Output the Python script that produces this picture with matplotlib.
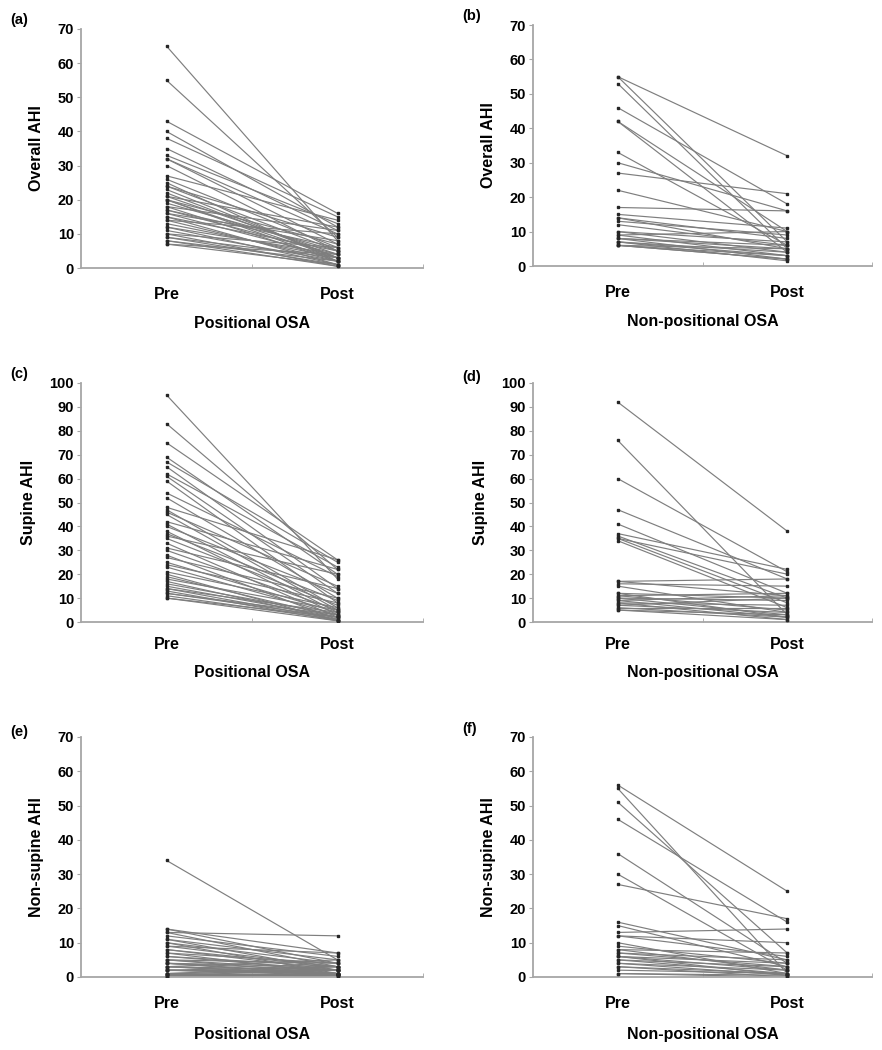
import matplotlib
matplotlib.use("Agg")
import matplotlib.pyplot as plt
from matplotlib.ticker import FixedLocator

plt.rcParams['font.family'] = ['Liberation Sans', 'DejaVu Sans']

groups = ["Pre", "Post"]

# Positional OSA
pos_overall_pre = [65, 55, 43, 40, 38, 35, 33, 32, 32, 30, 27, 26, 25, 24, 24, 23, 22, 21, 21, 20,
                   20, 20, 19, 18, 18, 17, 17, 16, 16, 15, 15, 14, 14, 13, 12, 12, 11, 10, 10, 9,
                   9, 8, 8, 7, 7]
pos_overall_post = [8, 9, 16, 12, 15, 11, 13, 10, 7, 5, 14, 6, 2, 9, 5, 3, 3, 4, 12, 3,
                    7, 2, 5, 2, 11, 6, 4, 3, 8, 1, 5, 2, 10, 3, 1, 4, 2, 0.5, 6, 1,
                    3, 2, 0.5, 1, 4]
pos_supine_pre = [95, 83, 75, 69, 67, 65, 62, 61, 59, 54, 52, 48, 47, 46, 45, 42, 41, 40, 38, 37,
                  36, 35, 33, 31, 30, 28, 27, 25, 24, 23, 21, 20, 19, 18, 17, 16, 15, 14, 14, 13,
                  12, 12, 11, 10, 10]
pos_supine_post = [18, 22, 26, 20, 25, 14, 23, 12, 8, 19, 10, 26, 6, 15, 5, 22, 4, 12, 3, 9,
                   20, 7, 2, 14, 5, 1, 10, 4, 8, 3, 6, 0.5, 2, 5, 1, 3, 2, 4, 1, 0.5,
                   2, 3, 1, 0.5, 2]
pos_nonsupine_pre = [34, 14, 14, 13, 13, 12, 11, 11, 10, 10, 9, 9, 8, 7, 7, 6, 5, 5, 5, 4,
                     4, 4, 3, 3, 3, 3, 2, 2, 2, 2, 2, 1, 1, 1, 1, 1, 0.5, 0.5, 0.5, 0,
                     0, 0, 6, 8, 4]
pos_nonsupine_post = [5, 7, 4, 12, 3, 6, 2, 5, 4, 1, 3, 7, 2, 4, 1, 3, 2, 4, 1, 3,
                      0.5, 2, 1, 5, 2, 0.5, 1, 3, 0.5, 2, 1, 0.5, 2, 1, 0, 3, 1, 0.5, 2, 0,
                      1, 0.5, 2, 3, 1]

# Non-positional OSA
np_overall_pre = [55, 55, 53, 46, 42, 42, 33, 30, 27, 22, 17, 15, 14, 14, 13, 12, 10, 10, 9, 9,
                  8, 8, 8, 7, 7, 7, 6, 6, 6, 6]
np_overall_post = [32, 7, 5, 18, 10, 4, 6, 16, 21, 10, 16, 11, 8, 5, 9, 6, 4, 7, 3, 10,
                   5, 2, 6, 3, 1.5, 4, 2, 3, 5, 2]
np_supine_pre = [92, 76, 60, 47, 41, 37, 36, 35, 35, 34, 17, 17, 16, 15, 12, 12, 11, 11, 10, 10,
                 9, 9, 8, 8, 7, 7, 6, 6, 5, 5]
np_supine_post = [38, 3, 21, 18, 12, 22, 10, 8, 20, 6, 18, 11, 15, 4, 10, 2, 12, 5, 9, 3,
                  11, 2, 7, 1, 4, 10, 2, 6, 1, 3]
np_nonsupine_pre = [56, 55, 51, 46, 36, 30, 27, 16, 15, 13, 12, 12, 10, 9, 8, 8, 7, 7, 6, 6,
                    6, 5, 5, 4, 4, 3, 3, 2, 1, 1]
np_nonsupine_post = [25, 1, 7, 16, 4, 2, 17, 5, 3, 14, 6, 10, 1, 4, 7, 2, 3, 5, 0.5, 2,
                     4, 1, 3, 0.5, 2, 1, 0, 1, 0.5, 0]

W, H = 882, 1050
fig = plt.figure(figsize=(W / 100, H / 100), dpi=100)

def px_axes(left, right, y0, ytop):
    return [left / W, 1 - y0 / H, (right - left) / W, (y0 - ytop) / H]

panels = [
    ("(a)", (10, 20), px_axes(81, 423, 268, 29), pos_overall_pre, pos_overall_post, 70, "Overall AHI", "Positional OSA", 14, 10),
    ("(b)", (462, 16), px_axes(533, 872, 266, 25), np_overall_pre, np_overall_post, 70, "Overall AHI", "Non-positional OSA", 14, 10),
    ("(c)", (10, 374), px_axes(81, 423, 622, 383), pos_supine_pre, pos_supine_post, 100, "Supine AHI", "Positional OSA", 11, 9),
    ("(d)", (462, 377), px_axes(533, 872, 622, 383), np_supine_pre, np_supine_post, 100, "Supine AHI", "Non-positional OSA", 11, 9),
    ("(e)", (10, 732), px_axes(81, 423, 977, 737), pos_nonsupine_pre, pos_nonsupine_post, 70, "Non-supine AHI", "Positional OSA", 14, 11),
    ("(f)", (462, 729), px_axes(533, 872, 977, 737), np_nonsupine_pre, np_nonsupine_post, 70, "Non-supine AHI", "Non-positional OSA", 14, 11),
]

spine_col = "#a6a6a6"
for tag, (tx, ty), rect, pre, post, ymax, ylab, xlab, tpad, lpad in panels:
    ax = fig.add_axes(rect)
    xs = [0.5, 1.5]
    for a, b in zip(pre, post):
        ax.plot(xs, [a, b], color="#7e7e7e", lw=0.85, zorder=2)
        ax.plot(xs, [a, b], ls="none", marker="s", ms=2.0, color="#262626", zorder=3)
    ax.set_xlim(0, 2)
    ax.set_ylim(0, ymax)
    ax.set_yticks(range(0, ymax + 1, 10))
    ax.set_xticks(xs)
    ax.set_xticklabels(groups, fontsize=11.5, fontweight="bold")
    ax.xaxis.set_minor_locator(FixedLocator([1, 2]))
    ax.tick_params(axis="x", which="major", length=0, pad=tpad)
    ax.tick_params(axis="x", which="minor", length=3, direction="in", color=spine_col)
    ax.tick_params(axis="y", length=3, direction="out", color=spine_col, pad=2,
                   labelsize=10.5)
    for lbl in ax.get_yticklabels():
        lbl.set_fontweight("bold")
    for s in ("top", "right"):
        ax.spines[s].set_visible(False)
    for s in ("left", "bottom"):
        ax.spines[s].set_color(spine_col)
        ax.spines[s].set_linewidth(1.3)
    ax.set_ylabel(ylab, fontsize=11.5, fontweight="bold", labelpad=10)
    ax.set_xlabel(xlab, fontsize=11.5, fontweight="bold", labelpad=lpad)
    fig.text(tx / W, 1 - ty / H, tag, fontsize=10.5, fontweight="bold", va="center", ha="left")

fig.savefig("out.png", dpi=100)
